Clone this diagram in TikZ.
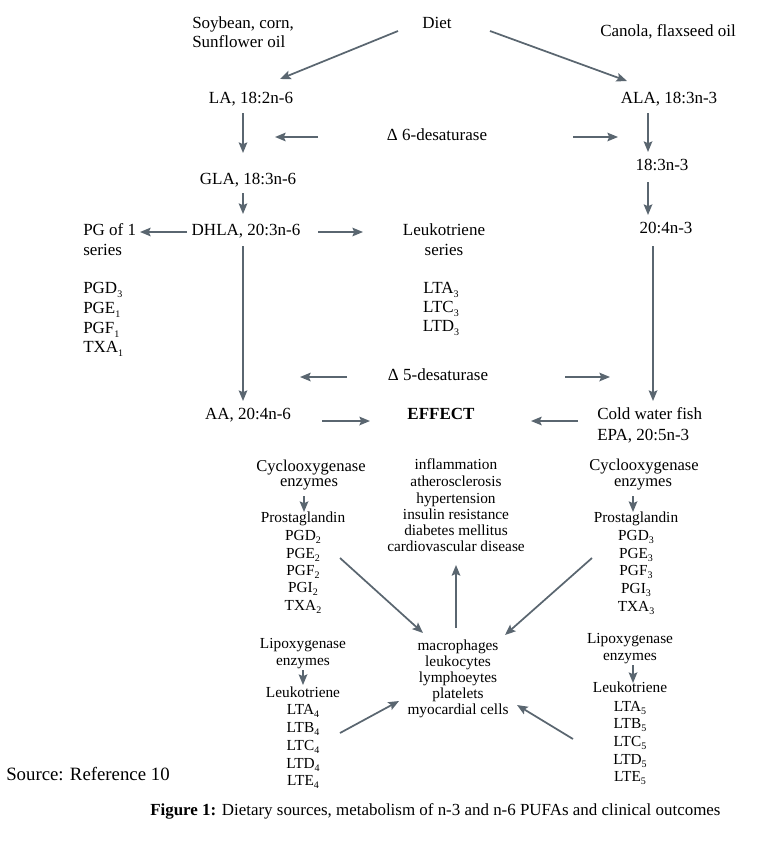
\documentclass[tikz,border=0pt]{standalone}
\usepackage{fontspec}
\setmainfont{Liberation Serif}
\usetikzlibrary{arrows.meta}
\definecolor{arrcol}{HTML}{5A6670}
\newcommand{\sbs}[1]{\raisebox{-0.55ex}{\fontsize{7.5}{8}\selectfont #1}}
\tikzset{
  txt/.style={inner sep=0pt, anchor=mid, font=\fontsize{12.75}{15}\selectfont},
  txtl/.style={txt, anchor=mid west},
  sml/.style={inner sep=0pt, anchor=mid, font=\fontsize{11.5}{14}\selectfont},
  cyc/.style={inner sep=0pt, anchor=mid, font=\fontsize{12.4}{14}\selectfont},
  arw/.style={draw=arrcol, line width=1.3pt, -{Stealth[length=8pt,width=6.5pt,inset=1.5pt]}},
}
\begin{document}
\begin{tikzpicture}[x=0.75pt,y=-0.75pt]
\useasboundingbox (0,0) rectangle (769,842);
% ---------- upper part ----------
\node[txt] (diet) at (437,25) {Diet};
\node[txtl] (soy1) at (192,25) {Soybean, corn,};
\node[txtl] (soy2) at (192,44) {Sunflower oil};
\node[txt] (canola) at (668,33) {Canola, flaxseed oil};
\node[txt] (la) at (251,100) {LA, 18:2n-6};
\node[txt] (ala) at (669,100) {ALA, 18:3n-3};
\node[txt] (d6) at (437,137) {Δ 6-desaturase};
\node[txt] (gla) at (248,181) {GLA, 18:3n-6};
\node[txt] (s183) at (662,167) {18:3n-3};
\node[txt] (dhla) at (246,232) {DHLA, 20:3n-6};
\node[txtl] (pgonea) at (83,232) {PG of 1};
\node[txtl] (pgoneb) at (83,252) {series};
\node[txtl] (pgd3) at (83,290) {PGD\sbs{3}};
\node[txtl] (pge1) at (83,310) {PGE\sbs{1}};
\node[txtl] (pgf1) at (83,330) {PGF\sbs{1}};
\node[txtl] (txa1) at (83,349) {TXA\sbs{1}};
\node[txt] (lka) at (444,232) {Leukotriene};
\node[txt] (lkb) at (444,252) {series};
\node[txt] (lta3) at (441,290) {LTA\sbs{3}};
\node[txt] (ltc3) at (441,309) {LTC\sbs{3}};
\node[txt] (ltd3) at (441,328) {LTD\sbs{3}};
\node[txt] (s204) at (666,230) {20:4n-3};
\node[txt] (d5) at (438,377) {Δ 5-desaturase};
\node[txt] (aa) at (248,416) {AA, 20:4n-6};
\node[txt, font=\fontsize{12.75}{15}\selectfont\bfseries] (effect) at (441,416) {EFFECT};
\node[txtl] (cold) at (597,416) {Cold water fish};
\node[txtl] (epa) at (597,437) {EPA, 20:5n-3};
% ---------- lower left ----------
\node[cyc] (coxl) at (311,468) {Cyclooxygenase};
\node[cyc] (enzl) at (309,483) {enzymes};
\node[sml] (prl) at (303,519) {Prostaglandin};
\node[sml] (pgdl) at (303,537) {PGD\sbs{2}};
\node[sml] (pgel) at (303,555) {PGE\sbs{2}};
\node[sml] (pgfl) at (303,572) {PGF\sbs{2}};
\node[sml] (pgil) at (303,589) {PGI\sbs{2}};
\node[sml] (txal) at (303,607) {TXA\sbs{2}};
\node[sml] (lipl) at (303,645) {Lipoxygenase};
\node[sml] (lenzl) at (303,662) {enzymes};
\node[sml] (leul) at (303,694) {Leukotriene};
\node[sml] (ltal) at (303,711) {LTA\sbs{4}};
\node[sml] (ltbl) at (303,729) {LTB\sbs{4}};
\node[sml] (ltcl) at (303,747) {LTC\sbs{4}};
\node[sml] (ltdl) at (303,765) {LTD\sbs{4}};
\node[sml] (ltel) at (303,782) {LTE\sbs{4}};
% ---------- lower right ----------
\node[cyc] (coxr) at (644,467) {Cyclooxygenase};
\node[cyc] (enzr) at (643,483) {enzymes};
\node[sml] (prr) at (636,519) {Prostaglandin};
\node[sml] (pgdr) at (636,537) {PGD\sbs{3}};
\node[sml] (pger) at (636,555) {PGE\sbs{3}};
\node[sml] (pgfr) at (636,572) {PGF\sbs{3}};
\node[sml] (pgir) at (636,590) {PGI\sbs{3}};
\node[sml] (txar) at (636,608) {TXA\sbs{3}};
\node[sml] (lipr) at (630,640) {Lipoxygenase};
\node[sml] (lenzr) at (630,657) {enzymes};
\node[sml] (leur) at (630,689) {Leukotriene};
\node[sml] (ltar) at (630,708) {LTA\sbs{5}};
\node[sml] (ltbr) at (630,725) {LTB\sbs{5}};
\node[sml] (ltcr) at (630,743) {LTC\sbs{5}};
\node[sml] (ltdr) at (630,761) {LTD\sbs{5}};
\node[sml] (lter) at (630,778) {LTE\sbs{5}};
% ---------- centre ----------
\node[sml] (ef1) at (456,466) {inflammation};
\node[sml] (ef2) at (456,483) {atherosclerosis};
\node[sml] (ef3) at (456,500) {hypertension};
\node[sml] (ef4) at (456,516) {insulin resistance};
\node[sml] (ef5) at (456,532) {diabetes mellitus};
\node[sml] (ef6) at (456,548) {cardiovascular disease};
\node[sml] (ce1) at (458,647) {macrophages};
\node[sml] (ce2) at (458,663) {leukocytes};
\node[sml] (ce3) at (458,679) {lymphoeytes};
\node[sml] (ce4) at (458,695) {platelets};
\node[sml] (ce5) at (458,711) {myocardial cells};
% ---------- source and caption ----------
\node[inner sep=0pt, anchor=mid west, font=\fontsize{14.1}{16}\selectfont] (src) at (6,777) {Source: Reference 10};
\node[inner sep=0pt, anchor=mid west, font=\fontsize{12.7}{14}\selectfont] (cap) at (150,812) {\textbf{Figure 1:} Dietary sources, metabolism of n-3 and n-6 PUFAs and clinical outcomes};
% ---------- arrow end points ----------
\coordinate (a1s) at (398,31);  \coordinate (a1e) at (280,79);
\coordinate (a2s) at (490,31);  \coordinate (a2e) at (627,81);
\coordinate (a3s) at (243,113); \coordinate (a3e) at (243,153);
\coordinate (a4s) at (648,113); \coordinate (a4e) at (648,152);
\coordinate (a5s) at (318,137); \coordinate (a5e) at (275,137);
\coordinate (a6s) at (573,137); \coordinate (a6e) at (618,137);
\coordinate (a7s) at (243,193); \coordinate (a7e) at (243,214);
\coordinate (a8s) at (648,182); \coordinate (a8e) at (648,215);
\coordinate (a9s) at (187,232); \coordinate (a9e) at (140,232);
\coordinate (a10s) at (318,232); \coordinate (a10e) at (363,232);
\coordinate (a11s) at (243,246); \coordinate (a11e) at (243,401);
\coordinate (a12s) at (653,246); \coordinate (a12e) at (653,401);
\coordinate (a13s) at (347,377); \coordinate (a13e) at (300,377);
\coordinate (a14s) at (565,377); \coordinate (a14e) at (610,377);
\coordinate (a15s) at (322,421); \coordinate (a15e) at (370,421);
\coordinate (a16s) at (578,421); \coordinate (a16e) at (531,421);
\coordinate (b1s) at (304,496); \coordinate (b1e) at (304,512);
\coordinate (b2s) at (633,496); \coordinate (b2e) at (633,512);
\coordinate (b3s) at (303,670); \coordinate (b3e) at (303,685);
\coordinate (b4s) at (633,665); \coordinate (b4e) at (633,683);
\coordinate (c1s) at (340,558); \coordinate (c1e) at (423,633);
\coordinate (c2s) at (592,558); \coordinate (c2e) at (505,635);
\coordinate (c3s) at (456,628); \coordinate (c3e) at (456,565);
\coordinate (c4s) at (340,733); \coordinate (c4e) at (399,701);
\coordinate (c5s) at (573,739); \coordinate (c5e) at (517,705);
% ---------- arrows ----------
\foreach \n in {a1,a2,a3,a4,a5,a6,a7,a8,a9,a10,a11,a12,a13,a14,a15,a16,b1,b2,b3,b4,c1,c2,c3,c4,c5}
  \draw[arw] (\n s) -- (\n e);
\end{tikzpicture}
\end{document}
